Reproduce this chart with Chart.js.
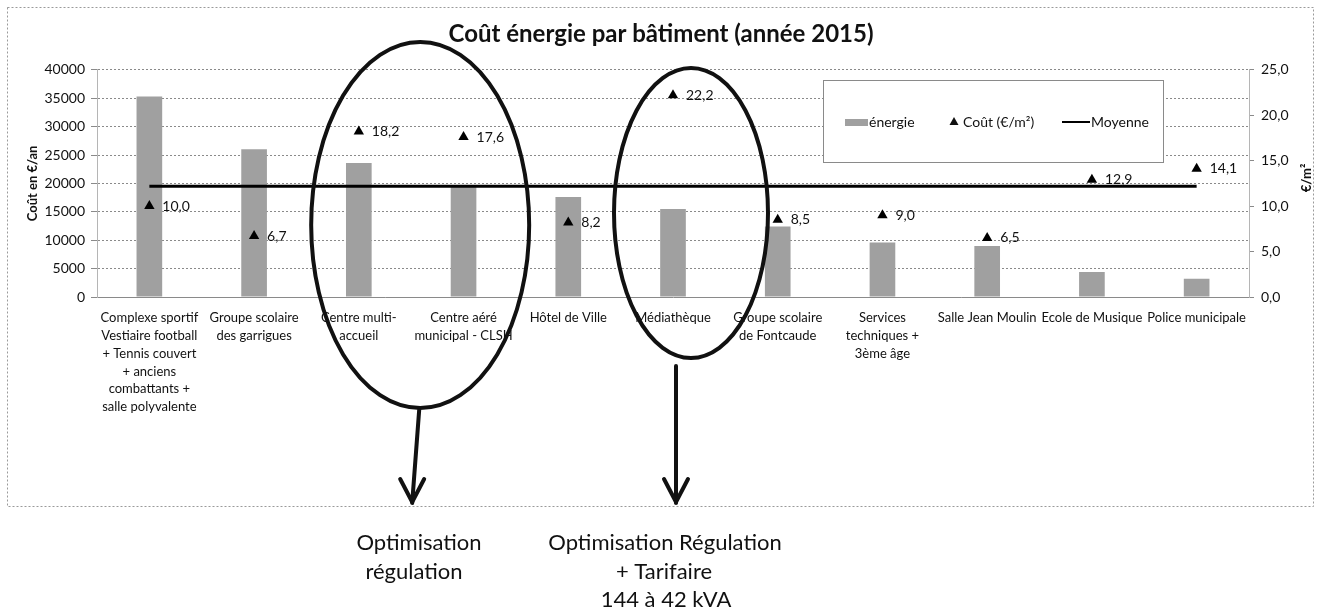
<!DOCTYPE html>
<html lang="fr">
<head>
<meta charset="UTF-8">
<title>Coût énergie par bâtiment</title>
<script src="https://cdn.jsdelivr.net/npm/chart.js"></script>
<style>
  html, body { margin: 0; padding: 0; background: #fff; }
</style>
</head>
<body>
<canvas id="chart" width="1322" height="613"></canvas>
<script>
// valeurs
const batiments = [
  ['Complexe sportif', 'Vestiaire football', '+ Tennis couvert', '+ anciens', 'combattants +', 'salle polyvalente'],
  ['Groupe scolaire', 'des garrigues'],
  ['Centre multi-', 'accueil'],
  ['Centre aéré', 'municipal - CLSH'],
  'Hôtel de Ville',
  'Médiathèque',
  ['Groupe scolaire', 'de Fontcaude'],
  ['Services', 'techniques +', '3ème âge'],
  'Salle Jean Moulin',
  'Ecole de Musique',
  'Police municipale'
];
const energie = [35300, 26000, 23600, 19700, 17600, 15500, 12400, 9600, 9000, 4400, 3200];
const coutM2 = [10.0, 6.7, 18.2, 17.6, 8.2, 22.2, 8.5, 9.0, 6.5, 12.9, 14.1];
const moyenne = [12.2, 12.2, 12.2, 12.2, 12.2, 12.2, 12.2, 12.2, 12.2, 12.2, 12.2];

const FONT = 'Lato, "Open Sans", sans-serif';
const TXT = '#111';

function virgule(v) { return v.toFixed(1).replace('.', ','); }

// cadre pointillé autour du graphique
const cadre = {
  id: 'cadre',
  beforeDraw(chart) {
    const c = chart.ctx;
    c.save();
    c.fillStyle = '#fff';
    c.fillRect(0, 0, chart.width, chart.height);
    c.strokeStyle = '#9a9a9a';
    c.lineWidth = 1;
    c.setLineDash([2, 2]);
    c.strokeRect(7.5, 7.5, 1306, 499);
    c.restore();
  }
};

// étiquettes à côté des triangles
const etiquettes = {
  id: 'etiquettes',
  afterDatasetsDraw(chart) {
    const c = chart.ctx;
    const meta = chart.getDatasetMeta(0);
    c.save();
    c.font = '14px ' + FONT;
    c.fillStyle = TXT;
    c.textAlign = 'left';
    c.textBaseline = 'middle';
    meta.data.forEach((pt, i) => {
      c.fillText(virgule(coutM2[i]), pt.x + 13, pt.y);
    });
    c.restore();
  }
};

// légende dans la zone du graphique
const legende = {
  id: 'legende',
  afterDraw(chart) {
    const c = chart.ctx;
    const x0 = 823, y0 = 80, w = 340, h = 82, ym = 122;
    c.save();
    c.fillStyle = '#fff';
    c.fillRect(x0, y0, w, h);
    c.strokeStyle = '#8a8a8a';
    c.lineWidth = 1;
    c.strokeRect(x0 + 0.5, y0 + 0.5, w, h);
    c.font = '14px ' + FONT;
    c.fillStyle = TXT;
    c.textBaseline = 'middle';
    // énergie
    c.fillStyle = '#a0a0a0';
    c.fillRect(845, ym - 3, 23, 7);
    c.fillStyle = TXT;
    c.fillText('énergie', 869, ym);
    // coût
    c.beginPath();
    c.moveTo(954, ym - 5);
    c.lineTo(958.5, ym + 3);
    c.lineTo(949.5, ym + 3);
    c.closePath();
    c.fill();
    c.fillText('Coût (€/m²)', 963, ym);
    // moyenne
    c.strokeStyle = '#000';
    c.lineWidth = 2;
    c.beginPath();
    c.moveTo(1062, ym);
    c.lineTo(1090, ym);
    c.stroke();
    c.fillText('Moyenne', 1091, ym);
    c.restore();
  }
};

// titre de l'axe de droite, ellipses, flèches et commentaires
const annotations = {
  id: 'annotations',
  afterDraw(chart) {
    const c = chart.ctx;
    const x = chart.scales.x;
    c.save();
    c.font = 'bold 13px ' + FONT;
    c.fillStyle = TXT;
    c.textAlign = 'center';
    c.textBaseline = 'middle';
    c.translate(1307, 178);
    c.rotate(-Math.PI / 2);
    c.fillText('€/m²', 0, 0);
    c.restore();

    const e1x = (x.getPixelForValue(2) + x.getPixelForValue(3)) / 2 + 9;
    const e2x = x.getPixelForValue(5) + 18;
    c.save();
    c.strokeStyle = '#111';
    c.lineWidth = 4;
    c.beginPath();
    c.ellipse(e1x, 225, 109, 183, 0, 0, Math.PI * 2);
    c.stroke();
    c.beginPath();
    c.ellipse(e2x, 213, 77, 145, 0, 0, Math.PI * 2);
    c.stroke();

    function fleche(xa, ya, xb, yb) {
      c.beginPath();
      c.moveTo(xa, ya);
      c.lineTo(xb, yb);
      c.stroke();
      c.beginPath();
      c.moveTo(xb - 12, yb - 24);
      c.lineTo(xb, yb - 1);
      c.lineTo(xb + 12, yb - 24);
      c.stroke();
    }
    c.lineCap = 'round';
    c.lineJoin = 'round';
    fleche(e1x - 1, 410, e1x - 8, 503);
    fleche(676, 366, 676, 503);

    c.fillStyle = TXT;
    c.font = '22px ' + FONT;
    c.textAlign = 'center';
    c.textBaseline = 'middle';
    c.fillText('Optimisation', 419, 543);
    c.fillText('régulation', 414, 572);
    c.fillText('Optimisation Régulation', 665, 543);
    c.fillText('+ Tarifaire', 664, 572);
    c.fillText('144 à 42 kVA', 666, 600);
    c.restore();
  }
};

new Chart(document.getElementById('chart'), {
  data: {
    labels: batiments,
    datasets: [
      {
        type: 'line',
        label: 'Coût (€/m²)',
        data: coutM2,
        yAxisID: 'y1',
        showLine: false,
        pointStyle: 'triangle',
        pointRadius: 6,
        pointBackgroundColor: '#000',
        pointBorderColor: '#000',
        pointBorderWidth: 0,
        order: 0
      },
      {
        type: 'line',
        label: 'Moyenne',
        data: moyenne,
        yAxisID: 'y1',
        borderColor: '#000',
        borderWidth: 3,
        pointRadius: 0,
        order: 1
      },
      {
        type: 'bar',
        label: 'énergie',
        data: energie,
        yAxisID: 'y',
        backgroundColor: '#a0a0a0',
        categoryPercentage: 1,
        barPercentage: 0.245,
        order: 2
      }
    ]
  },
  options: {
    responsive: false,
    animation: false,
    events: [],
    layout: { padding: 0 },
    plugins: {
      legend: { display: false },
      tooltip: { enabled: false },
      title: {
        display: true,
        text: 'Coût énergie par bâtiment (année 2015)',
        color: TXT,
        font: { family: FONT, size: 24, weight: 'bold', lineHeight: 1.2 },
        padding: { top: 20, bottom: 21 }
      }
    },
    scales: {
      x: {
        afterFit(s) { s.height = 316; },
        grid: { display: false, drawTicks: false },
        border: { color: '#8a8a8a' },
        ticks: {
          color: TXT,
          autoSkip: false,
          maxRotation: 0,
          minRotation: 0,
          padding: 12,
          font: { family: FONT, size: 13, lineHeight: 1.37 }
        }
      },
      y: {
        position: 'left',
        min: 0,
        max: 40000,
        afterFit(s) { s.width = 97; },
        grid: { color: '#8a8a8a', tickLength: 6, tickColor: '#8a8a8a' },
        border: { color: '#b5b5b5', dash: [2, 2] },
        ticks: {
          stepSize: 5000,
          color: TXT,
          padding: 6,
          font: { family: FONT, size: 14 },
          callback: (v) => String(v)
        },
        title: {
          display: true,
          text: 'Coût en €/an',
          color: TXT,
          font: { family: FONT, size: 13, weight: 'bold' },
          padding: { top: 25, bottom: 0 }
        }
      },
      y1: {
        position: 'right',
        min: 0,
        max: 25,
        afterFit(s) { s.width = 73; },
        grid: { drawOnChartArea: false, tickLength: 5, tickColor: '#8a8a8a' },
        border: { color: '#b5b5b5', dash: [2, 2] },
        ticks: {
          stepSize: 5,
          color: TXT,
          padding: 7,
          font: { family: FONT, size: 14 },
          callback: (v) => virgule(v)
        }
      }
    }
  },
  plugins: [cadre, etiquettes, legende, annotations]
});
</script>
</body>
</html>
